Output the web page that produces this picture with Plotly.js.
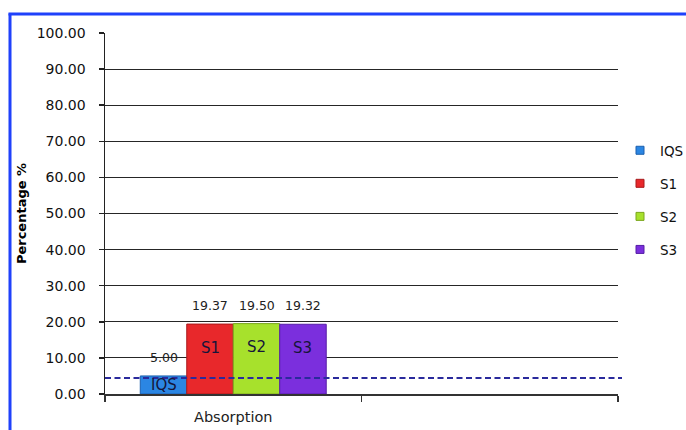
<!DOCTYPE html>
<html><head><meta charset="utf-8">
<script src="https://cdn.plot.ly/plotly-3.0.1.min.js"></script>
<style>html,body{margin:0;padding:0;background:#fff;overflow:hidden}#chart{width:686px;height:430px}</style>
</head><body><div id="chart"></div>
<script>
// ---- data ----
const categories = ["Absorption", " "];
const seriesNames = ["IQS", "S1", "S2", "S3"];
const seriesValues = [5.00, 19.37, 19.50, 19.32];
const referenceLevel = 4.4;
const yTickValues = [0, 10, 20, 30, 40, 50, 60, 70, 80, 90, 100];
const yTickLabels = ["0.00", "10.00", "20.00", "30.00", "40.00", "50.00", "60.00", "70.00", "80.00", "90.00", "100.00"];

// ---- styles ----
const fillColors = ["#2b86e3", "#e8282b", "#a7e12c", "#7b2fdd"];
const lineColors = ["#1c5fae", "#a81a1c", "#7aa61c", "#561ea6"];
const FONT = "DejaVu Sans, Verdana, sans-serif";
const M = {l: 105, r: 68, t: 33, b: 36};
const W = 686, H = 430;
const PW = W - M.l - M.r, PH = H - M.t - M.b;
const bargap = 0.275;
const groupW = 1 - bargap, barW = groupW / seriesNames.length;

const traces = [];
seriesNames.forEach((name, i) => {
  traces.push({
    type: "bar", name: name, x: categories, y: [seriesValues[i], null],
    marker: {color: fillColors[i], line: {color: lineColors[i], width: 1}},
    showlegend: false, hoverinfo: "skip"
  });
});
seriesNames.forEach((name, i) => {
  traces.push({
    type: "scatter", mode: "markers", name: name, x: [null], y: [null],
    legendgroup: "g" + i,
    marker: {symbol: "square", size: 8, color: fillColors[i], line: {color: lineColors[i], width: 1}}
  });
});

const annotations = [];
seriesNames.forEach((name, i) => {
  const xc = -groupW / 2 + barW * (i + 0.5);
  const v = seriesValues[i];
  annotations.push({
    x: xc, y: v, xref: "x", yref: "y", text: v.toFixed(2), showarrow: false,
    yanchor: "bottom", yshift: 9, font: {family: FONT, size: 12.5, color: "#222"}
  });
  annotations.push({
    x: xc, y: Math.max(v - 6.5, v / 2), xref: "x", yref: "y", text: name, showarrow: false,
    yanchor: "middle", font: {family: FONT, size: 15, color: "#15153a"}
  });
});

const px2x = p => (p - M.l) / PW;
const px2y = p => 1 - (p - M.t) / PH;
const frameColor = "#1f41fb";
const shapes = [
  {type: "line", xref: "paper", yref: "y", x0: 0, x1: px2x(622), y0: referenceLevel, y1: referenceLevel,
   line: {color: "#2a2a9c", width: 2, dash: "6px,3.5px"}, layer: "above"},
  {type: "line", xref: "paper", yref: "paper", x0: px2x(10), x1: px2x(10), y0: px2y(440), y1: px2y(13.5),
   line: {color: frameColor, width: 3}},
  {type: "line", xref: "paper", yref: "paper", x0: px2x(8.5), x1: px2x(700), y0: px2y(14), y1: px2y(14),
   line: {color: frameColor, width: 3}}
];

const layout = {
  width: W, height: H, margin: M,
  paper_bgcolor: "#fff", plot_bgcolor: "#fff",
  barmode: "group", bargap: bargap, bargroupgap: 0,
  showlegend: true,
  legend: {xref: "container", yref: "container", x: 620 / W, xanchor: "left", y: 1 - 135 / H, yanchor: "top",
           font: {family: FONT, size: 13.5, color: "#111"}, tracegroupgap: 12.5, itemwidth: 30,
           bgcolor: "rgba(0,0,0,0)"},
  xaxis: {type: "category", categoryorder: "array", categoryarray: categories, range: [-0.5, 1.5],
          showline: true, linecolor: "#333", linewidth: 1.5, ticks: "outside", tickson: "boundaries",
          ticklen: 6, tickcolor: "#333", tickwidth: 1.5, showgrid: false, zeroline: false,
          ticklabelstandoff: 9,
          tickfont: {family: FONT, size: 14.5, color: "#222"}, fixedrange: true},
  yaxis: {range: [0, 100], tickvals: yTickValues, ticktext: yTickLabels,
          showline: true, linecolor: "#222", linewidth: 1.5, ticks: "outside", ticklen: 5,
          tickcolor: "#222", tickwidth: 1.5, ticklabelstandoff: 10,
          showgrid: true, gridcolor: "#262626", gridwidth: 1.2, zeroline: false,
          tickfont: {family: FONT, size: 14, color: "#111"},
          title: {text: "Percentage %", standoff: 7, font: {family: FONT, size: 13, color: "#000", weight: "bold"}},
          fixedrange: true},
  annotations: annotations, shapes: shapes
};

Plotly.newPlot("chart", traces, layout, {displayModeBar: false, staticPlot: true});
</script>
</body></html>
